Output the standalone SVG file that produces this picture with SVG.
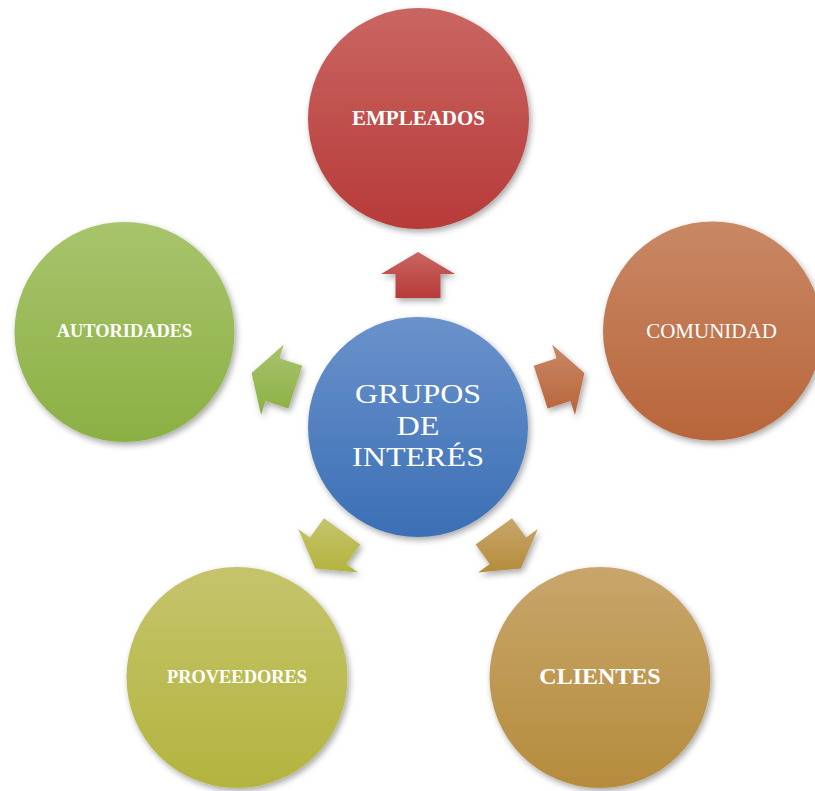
<svg xmlns="http://www.w3.org/2000/svg" width="815" height="791" viewBox="0 0 815 791">
<defs>
<filter id="sh" x="-20%" y="-20%" width="140%" height="140%">
<feDropShadow dx="2" dy="3" stdDeviation="3" flood-color="#000" flood-opacity="0.35"/>
</filter>
<linearGradient id="gBlue" x1="0" y1="0" x2="0" y2="1"><stop offset="0" stop-color="#6a92cb"/><stop offset="1" stop-color="#3b6fb5"/></linearGradient>
<linearGradient id="gRed" x1="0" y1="0" x2="0" y2="1"><stop offset="0" stop-color="#c96662"/><stop offset="1" stop-color="#b73a38"/></linearGradient>
<linearGradient id="gOrange" x1="0" y1="0" x2="0" y2="1"><stop offset="0" stop-color="#c98865"/><stop offset="1" stop-color="#b8653a"/></linearGradient>
<linearGradient id="gGold" x1="0" y1="0" x2="0" y2="1"><stop offset="0" stop-color="#c8a66b"/><stop offset="1" stop-color="#b58c3c"/></linearGradient>
<linearGradient id="gOlive" x1="0" y1="0" x2="0" y2="1"><stop offset="0" stop-color="#c5c46c"/><stop offset="1" stop-color="#b3b43e"/></linearGradient>
<linearGradient id="gGreen" x1="0" y1="0" x2="0" y2="1"><stop offset="0" stop-color="#a8c46d"/><stop offset="1" stop-color="#8bb043"/></linearGradient>
</defs>
<style>
.c{filter:url(#sh)}
.a{filter:url(#sh)}
.t{font-family:"Liberation Serif","Times New Roman",serif;fill:#fff;text-anchor:middle}
.b{font-weight:bold}
</style>
<g id="connectors">
<polygon class="a" fill="url(#gRed)" points="418,252 455,274 440.5,274 440.5,298 395.5,298 395.5,274 381,274"/>
<polygon class="a" fill="url(#gOrange)" points="584.44,372.92 574.94,414.91 570.46,401.12 547.64,408.54 533.74,365.74 556.56,358.32 552.08,344.53"/>
<polygon class="a" fill="url(#gGold)" points="520.86,568.58 478,572.53 489.73,564.01 475.62,544.59 512.02,518.13 526.13,537.55 537.86,529.03"/>
<polygon class="a" fill="url(#gOlive)" points="315.14,568.58 358,572.53 346.27,564.01 360.38,544.59 323.98,518.13 309.87,537.55 298.14,529.03"/>
<polygon class="a" fill="url(#gGreen)" points="251.56,372.92 283.92,344.53 279.44,358.32 302.26,365.74 288.36,408.54 265.54,401.12 261.06,414.91"/>
</g>
<g id="center">
<circle class="c" cx="418" cy="427" r="110" fill="url(#gBlue)"/>
<text class="t" x="418" y="403" font-size="27.5" textLength="126" lengthAdjust="spacingAndGlyphs">GRUPOS</text>
<text class="t" x="418" y="435" font-size="27.5" textLength="43" lengthAdjust="spacingAndGlyphs">DE</text>
<text class="t" x="418" y="466" font-size="27.5" textLength="132" lengthAdjust="spacingAndGlyphs">INTERÉS</text>
</g>
<g id="empleados">
<circle class="c" cx="418.5" cy="118.5" r="110.5" fill="url(#gRed)"/>
<text class="t b" x="418.5" y="125" font-size="21">EMPLEADOS</text>
</g>
<g id="comunidad">
<circle class="c" cx="712.5" cy="331" r="109.5" fill="url(#gOrange)"/>
<text class="t" x="711.5" y="338" font-size="21">COMUNIDAD</text>
</g>
<g id="clientes">
<circle class="c" cx="600" cy="677.5" r="110.5" fill="url(#gGold)"/>
<text class="t b" x="600" y="684" font-size="24">CLIENTES</text>
</g>
<g id="proveedores">
<circle class="c" cx="237" cy="677.5" r="110.5" fill="url(#gOlive)"/>
<text class="t b" x="237" y="683" font-size="18.4">PROVEEDORES</text>
</g>
<g id="autoridades">
<circle class="c" cx="124.5" cy="332" r="110" fill="url(#gGreen)"/>
<text class="t b" x="124.5" y="337" font-size="18.4">AUTORIDADES</text>
</g>
</svg>
